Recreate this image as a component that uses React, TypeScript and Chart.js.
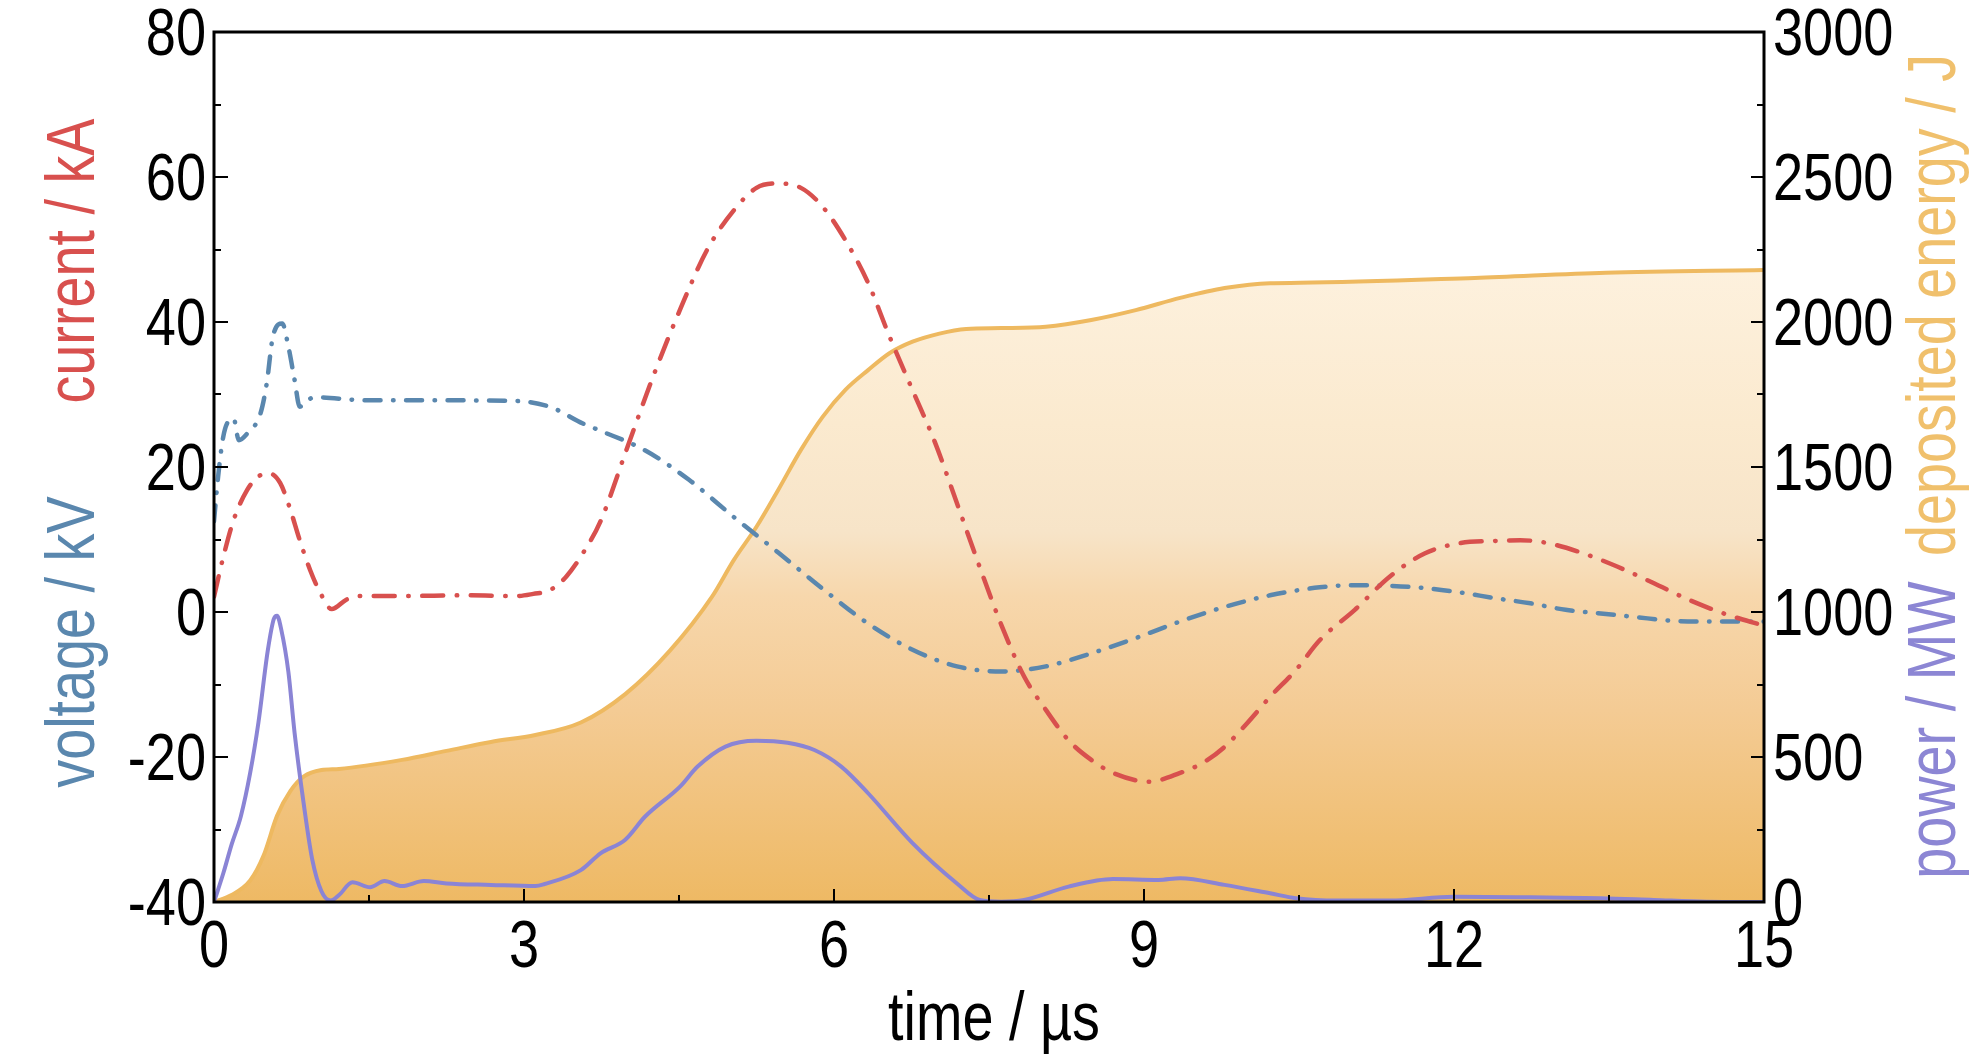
import React, { useEffect, useRef } from "react";
import { Chart, registerables } from "chart.js";

Chart.register(...registerables);

// ---------- data ----------
const currentT = [0, 0.09, 0.19, 0.32, 0.43, 0.54, 0.64, 0.73, 0.83, 0.93, 1.03, 1.14, 1.28, 1.4, 1.8, 2.45, 2.93, 3.09, 3.25, 3.41, 3.57, 3.74, 3.99, 4.25, 4.51, 4.77, 5.03, 5.25, 5.44, 5.68, 5.89, 6.11, 6.33, 6.54, 6.76, 6.98, 7.19, 7.41, 7.62, 7.84, 8.05, 8.27, 8.49, 8.7, 9.05, 9.35, 9.57, 9.78, 10.0, 10.22, 10.47, 10.7, 11.04, 11.38, 11.72, 12.06, 12.4, 12.64, 12.91, 13.25, 13.59, 13.93, 14.27, 14.61, 15.0];
const currentKA = [2.1, 7.6, 12.7, 16.8, 18.7, 19.1, 17.8, 14.5, 9.9, 5.8, 2.6, 0.4, 1.7, 2.2, 2.2, 2.3, 2.2, 2.5, 3.0, 4.9, 8.1, 12.5, 22.3, 32.5, 41.7, 49.9, 55.4, 58.5, 59.1, 58.5, 55.9, 51.3, 45.4, 37.9, 30.6, 23.3, 15.0, 6.2, -1.8, -8.9, -13.5, -17.7, -20.4, -22.2, -23.4, -22.2, -20.8, -18.6, -15.3, -11.7, -8.0, -3.9, 0.3, 4.9, 8.1, 9.5, 9.8, 9.9, 9.5, 8.1, 6.2, 4.0, 1.7, -0.2, -1.9];

const voltageT = [0, 0.04, 0.09, 0.15, 0.19, 0.24, 0.32, 0.45, 0.51, 0.57, 0.66, 0.72, 0.78, 0.83, 0.9, 0.99, 1.48, 2.12, 2.93, 3.25, 3.57, 3.74, 4.17, 4.6, 5.03, 5.46, 5.89, 6.33, 6.76, 7.19, 7.62, 8.05, 8.49, 8.92, 9.35, 9.78, 10.22, 10.7, 11.04, 11.38, 11.72, 12.06, 12.4, 12.74, 13.08, 13.42, 13.76, 14.1, 14.44, 15.0];
const voltageKV = [12.5, 18.7, 24.2, 26.5, 26.7, 23.7, 24.6, 27.4, 31.5, 38.0, 39.8, 36.6, 32.0, 28.3, 29.2, 29.6, 29.2, 29.2, 29.1, 28.3, 26.0, 25.0, 22.3, 18.2, 13.1, 8.2, 3.2, -1.6, -5.2, -7.5, -8.2, -7.5, -5.7, -3.6, -1.3, 0.7, 2.3, 3.4, 3.7, 3.6, 3.3, 2.7, 1.9, 1.2, 0.3, -0.2, -0.7, -1.2, -1.3, -1.3];

const powerT = [0, 0.09, 0.17, 0.26, 0.35, 0.43, 0.52, 0.58, 0.61, 0.65, 0.72, 0.78, 0.87, 0.95, 1.04, 1.13, 1.21, 1.34, 1.51, 1.65, 1.82, 2.03, 2.25, 2.68, 3.11, 3.2, 3.55, 3.74, 3.98, 4.17, 4.51, 4.68, 4.95, 5.25, 5.55, 5.81, 6.07, 6.33, 6.76, 7.19, 7.41, 7.62, 7.84, 8.27, 8.7, 9.14, 9.35, 9.78, 10.22, 10.47, 10.87, 11.38, 12.0, 12.74, 13.42, 13.93, 14.44, 15.0];
const powerMW = [0, 99, 198, 296, 445, 619, 866, 977, 987, 941, 793, 583, 334, 148, 37, 5, 24, 68, 51, 72, 55, 72, 64, 59, 55, 62, 110, 168, 215, 294, 398, 467, 536, 556, 549, 524, 467, 375, 203, 64, 7, 1, 7, 53, 79, 76, 82, 59, 30, 13, 5, 5, 18, 16, 13, 7, 1, 0];

const energyT = [0, 0.17, 0.35, 0.48, 0.61, 0.74, 0.87, 1.04, 1.21, 1.82, 2.25, 2.68, 3.11, 3.55, 3.98, 4.41, 4.82, 5.03, 5.25, 5.46, 5.68, 5.89, 6.11, 6.33, 6.54, 6.76, 7.02, 7.28, 7.62, 8.05, 8.49, 8.92, 9.35, 9.78, 10.22, 10.51, 12.2, 13.47, 15.0];
const energyJ = [0, 24, 74, 160, 297, 383, 433, 455, 459, 490, 521, 552, 576, 619, 717, 866, 1053, 1179, 1294, 1421, 1559, 1673, 1766, 1834, 1893, 1932, 1960, 1976, 1979, 1984, 2007, 2041, 2083, 2117, 2134, 2135, 2152, 2170, 2179];

const xTicks = [0, 3, 6, 9, 12, 15];
const leftTicks = [-40, -20, 0, 20, 40, 60, 80];
const rightTicks = [0, 500, 1000, 1500, 2000, 2500, 3000];

// ---------- styles ----------
const FONT = "'Liberation Sans', Arial, sans-serif";
const NARROW = 0.82;
const RED = "#D8504E";
const BLUE = "#5A87AE";
const PURPLE = "#8A84D5";
const ORANGE = "#EEB960";

const pts = (t: number[], v: number[]) => t.map((x, i) => ({ x, y: v[i] }));

export default function App() {
  const ref = useRef<HTMLCanvasElement>(null);

  useEffect(() => {
    const canvas = ref.current!;

    const fixV = (w: number) => (scale: any) => {
      scale.width = w;
      scale.paddingTop = 0;
      scale.paddingBottom = 0;
    };

    const txt = (ctx: any, text: string, x: number, y: number, align: string, color: string, size: number, rotate = false) => {
      ctx.save();
      ctx.translate(x, y);
      if (rotate) ctx.rotate(-Math.PI / 2);
      ctx.scale(NARROW, 1);
      ctx.font = `${size}px ${FONT}`;
      ctx.textAlign = align;
      ctx.textBaseline = "alphabetic";
      ctx.fillStyle = color;
      ctx.fillText(text, 0, 0);
      ctx.restore();
    };

    const framePlugin = {
      id: "frame",
      afterDatasetsDraw(chart: any) {
        const { ctx, chartArea: a, scales } = chart;
        const x = scales.x, yl = scales.y, yr = scales.y2;
        ctx.save();
        ctx.strokeStyle = "#000";
        ctx.lineWidth = 2;
        ctx.beginPath();
        for (let v = 0; v <= 15.001; v += 1.5) {
          const px = Math.round(x.getPixelForValue(v));
          const len = Math.abs(v / 3 - Math.round(v / 3)) < 1e-6 ? 13 : 7;
          ctx.moveTo(px, a.bottom);
          ctx.lineTo(px, a.bottom - len);
        }
        for (let v = -40; v <= 80; v += 10) {
          const py = Math.round(yl.getPixelForValue(v));
          const len = v % 20 === 0 ? 14 : 7;
          ctx.moveTo(a.left, py);
          ctx.lineTo(a.left + len, py);
        }
        for (let v = 0; v <= 3000; v += 250) {
          const py = Math.round(yr.getPixelForValue(v));
          const len = v % 500 === 0 ? 13 : 7;
          ctx.moveTo(a.right, py);
          ctx.lineTo(a.right - len, py);
        }
        ctx.stroke();
        ctx.lineWidth = 3;
        ctx.strokeRect(a.left, a.top, a.right - a.left, a.bottom - a.top);
        ctx.restore();
      },
      afterDraw(chart: any) {
        const { ctx, chartArea: a, scales } = chart;
        const x = scales.x, yl = scales.y, yr = scales.y2;
        const TS = 66;
        const half = 0.354 * TS;
        // tick labels
        xTicks.forEach((v) => txt(ctx, String(v), x.getPixelForValue(v), a.bottom + 65, "center", "#000", TS));
        leftTicks.forEach((v) => txt(ctx, String(v), a.left - 8, yl.getPixelForValue(v) + half, "right", "#000", TS));
        rightTicks.forEach((v) => txt(ctx, String(v), a.right + 9, yr.getPixelForValue(v) + half, "left", "#000", TS));
        // axis titles
        txt(ctx, "current / kA", 94, 261, "center", RED, 68, true);
        txt(ctx, "voltage / kV", 94, 642, "center", BLUE, 68, true);
        txt(ctx, "deposited energy / J", 1955, 305, "center", "#F0C06C", 68, true);
        txt(ctx, "power / MW", 1955, 730, "center", "#8C86D4", 68, true);
        txt(ctx, "time / \u00B5s", (a.left + a.right) / 2 + 5, 1040, "center", "#000", 68);
      },
    };

    const energyFill = (c: any) => {
      const chart = c.chart;
      const area = chart.chartArea;
      const yr = chart.scales.y2;
      if (!area || !yr) return "rgba(240,190,110,0.6)";
      const top = yr.getPixelForValue(2200);
      const g = chart.ctx.createLinearGradient(0, top, 0, area.bottom);
      g.addColorStop(0, "rgb(253,241,222)");
      g.addColorStop(0.25, "rgb(251,234,207)");
      g.addColorStop(0.42, "rgb(247,228,200)");
      g.addColorStop(0.52, "rgb(247,215,172)");
      g.addColorStop(0.7, "rgb(244,203,148)");
      g.addColorStop(0.85, "rgb(241,194,124)");
      g.addColorStop(1, "rgb(238,185,100)");
      return g;
    };

    const hiddenTicks = { display: false };

    const chart = new Chart(canvas, {
      type: "line",
      data: {
        datasets: [
          {
            label: "current",
            data: pts(currentT, currentKA),
            yAxisID: "y",
            borderColor: RED,
            borderWidth: 4.5,
            borderDash: [21, 13.5, 0.5, 13.5],
            borderCapStyle: "round",
            pointRadius: 0,
            fill: false,
            cubicInterpolationMode: "monotone",
            order: 0,
          },
          {
            label: "voltage",
            data: pts(voltageT, voltageKV),
            yAxisID: "y",
            borderColor: BLUE,
            borderWidth: 4.5,
            borderDash: [16, 12.5, 0.5, 12.5],
            borderCapStyle: "round",
            pointRadius: 0,
            fill: false,
            cubicInterpolationMode: "monotone",
            order: 1,
          },
          {
            label: "power",
            data: pts(powerT, powerMW),
            yAxisID: "y2",
            borderColor: PURPLE,
            borderWidth: 4,
            pointRadius: 0,
            fill: false,
            cubicInterpolationMode: "monotone",
            order: 2,
          },
          {
            label: "energy",
            data: pts(energyT, energyJ),
            yAxisID: "y2",
            borderColor: ORANGE,
            borderWidth: 4,
            backgroundColor: energyFill,
            pointRadius: 0,
            fill: "origin",
            cubicInterpolationMode: "monotone",
            order: 3,
          },
        ],
      },
      options: {
        animation: false,
        responsive: true,
        maintainAspectRatio: false,
        devicePixelRatio: 1,
        layout: { padding: { top: 32, left: 0, right: 0, bottom: 0 } },
        plugins: { legend: { display: false }, tooltip: { enabled: false } },
        events: [],
        scales: {
          x: {
            type: "linear",
            min: 0,
            max: 15,
            grid: { display: false, drawTicks: false },
            border: { display: false },
            afterBuildTicks: (s: any) => { s.ticks = xTicks.map((v) => ({ value: v })); },
            ticks: hiddenTicks,
            afterFit: (s: any) => { s.height = 161; s.paddingLeft = 0; s.paddingRight = 0; },
          },
          y: {
            type: "linear",
            position: "left",
            min: -40,
            max: 80,
            grid: { display: false, drawTicks: false },
            border: { display: false },
            afterBuildTicks: (s: any) => { s.ticks = leftTicks.map((v) => ({ value: v })); },
            ticks: hiddenTicks,
            afterFit: fixV(214),
          },
          y2: {
            type: "linear",
            position: "right",
            min: 0,
            max: 3000,
            grid: { display: false, drawTicks: false },
            border: { display: false },
            afterBuildTicks: (s: any) => { s.ticks = rightTicks.map((v) => ({ value: v })); },
            ticks: hiddenTicks,
            afterFit: fixV(220),
          },
        },
      },
      plugins: [framePlugin],
    } as any);

    return () => chart.destroy();
  }, []);

  return (
    <div style={{ position: "fixed", left: 0, top: 0, width: 1984, height: 1063, background: "#fff" }}>
      <canvas ref={ref} />
    </div>
  );
}
